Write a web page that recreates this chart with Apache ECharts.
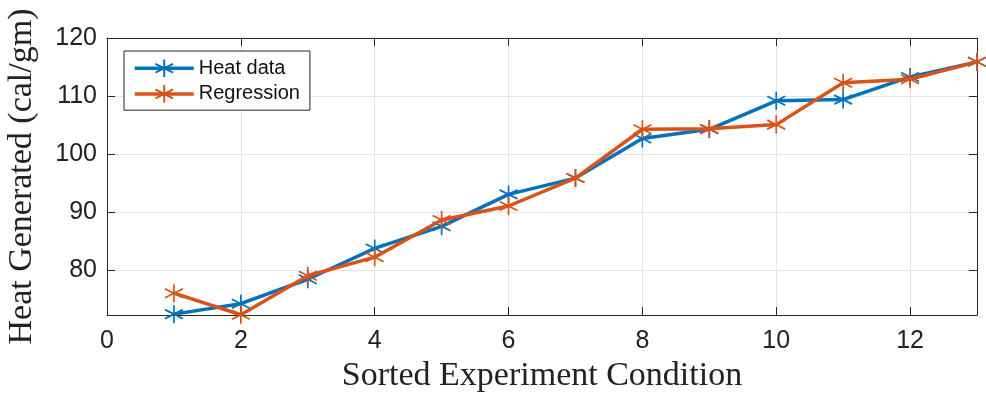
<!DOCTYPE html>
<html><head><meta charset="utf-8">
<script src="https://cdn.jsdelivr.net/npm/echarts@6/dist/echarts.min.js"></script>
<style>html,body{margin:0;padding:0;background:#fff}#c{width:986px;height:397px}</style>
</head><body><div id="c"></div>
<script>
const conditions = [1,2,3,4,5,6,7,8,9,10,11,12,13];
const heatData = [72.5,74.3,78.5,83.8,87.6,93.1,95.9,102.7,104.3,109.2,109.4,113.3,115.9];
const regression = [76.1,72.4,79.1,82.3,88.7,91.1,95.9,104.3,104.4,105.1,112.3,112.9,115.9];
const yTicks = [80,90,100,110,120];
const xTicks = [0,2,4,6,8,10,12];

const star = 'path://M0,-10L0,10M-8.66,-5L8.66,5M-8.66,5L8.66,-5';
const axisColor = '#262626';
const gridColor = '#e3e3e3';
const yMin = 72.35, yMax = 120;

function series(name, ys, color, z) {
  return {
    name, type: 'line', z,
    data: conditions.map((c, i) => [c, ys[i]]),
    symbol: star, symbolSize: 18,
    lineStyle: {color, width: 3.5},
    itemStyle: {color: 'none', borderColor: color, borderWidth: 1.7},
    emphasis: {disabled: true}, animation: false
  };
}
const chart = echarts.init(document.getElementById('c'), null, {renderer: 'canvas'});
const gridSeries = {
  type: 'line', data: [], silent: true, z: 1,
  markLine: {symbol: 'none', silent: true, label: {show: false}, animation: false,
    lineStyle: {color: gridColor, width: 1, type: 'solid'},
    data: yTicks.filter(v => v < yMax).map(v => ({yAxis: v}))
      .concat(xTicks.filter(v => v > 0).map(v => ({xAxis: v})))}
};
const tickStyle = {show: true, inside: true, length: 8, lineStyle: {color: axisColor, width: 1}};
chart.setOption({
  animation: false,
  grid: {left: 107, right: 9, top: 38, bottom: 82, outerBoundsMode: 'none', containLabel: false},
  legend: {
    left: 124, top: 51, orient: 'vertical', itemWidth: 59, itemHeight: 22, itemGap: 3, z: 20,
    padding: [6, 10, 5, 9], borderColor: axisColor, borderWidth: 1, backgroundColor: '#fff',
    textStyle: {fontFamily: 'Liberation Sans', fontSize: 20, color: '#111'},
    lineStyle: {width: 3.5},
    data: ['Heat data', 'Regression']
  },
  xAxis: [{
    type: 'value', min: 0, max: 13, interval: 2, z: 5,
    name: 'Sorted Experiment Condition', nameLocation: 'middle', nameGap: 43,
    nameTextStyle: {fontFamily: 'Liberation Serif', fontSize: 34, color: '#222'},
    axisLine: {show: true, onZero: false, lineStyle: {color: axisColor, width: 1}},
    axisTick: tickStyle,
    axisLabel: {fontFamily: 'Liberation Sans', fontSize: 25, color: '#222', margin: 14, showMaxLabel: false},
    splitLine: {show: false}
  }, {
    type: 'value', position: 'top', min: 0, max: 13, interval: 2, z: 5,
    axisLine: {show: true, onZero: false, lineStyle: {color: axisColor, width: 1}},
    axisTick: tickStyle,
    axisLabel: {show: false}, splitLine: {show: false}
  }],
  yAxis: [{
    type: 'value', min: yMin, max: yMax, z: 5,
    name: 'Heat Generated (cal/gm)', nameLocation: 'middle', nameGap: 68,
    nameTextStyle: {fontFamily: 'Liberation Serif', fontSize: 34, color: '#222'},
    axisLine: {show: true, onZero: false, lineStyle: {color: axisColor, width: 1}},
    axisTick: Object.assign({customValues: yTicks}, tickStyle),
    axisLabel: {fontFamily: 'Liberation Sans', fontSize: 25, color: '#222', margin: 10, customValues: yTicks},
    splitLine: {show: false}
  }, {
    type: 'value', position: 'right', min: yMin, max: yMax, z: 5,
    axisLine: {show: true, onZero: false, lineStyle: {color: axisColor, width: 1}},
    axisTick: Object.assign({customValues: yTicks}, tickStyle),
    axisLabel: {show: false, customValues: yTicks}, splitLine: {show: false}
  }],
  series: [gridSeries, series('Heat data', heatData, '#0072BD', 10), series('Regression', regression, '#D95319', 11)]
});
</script></body></html>
